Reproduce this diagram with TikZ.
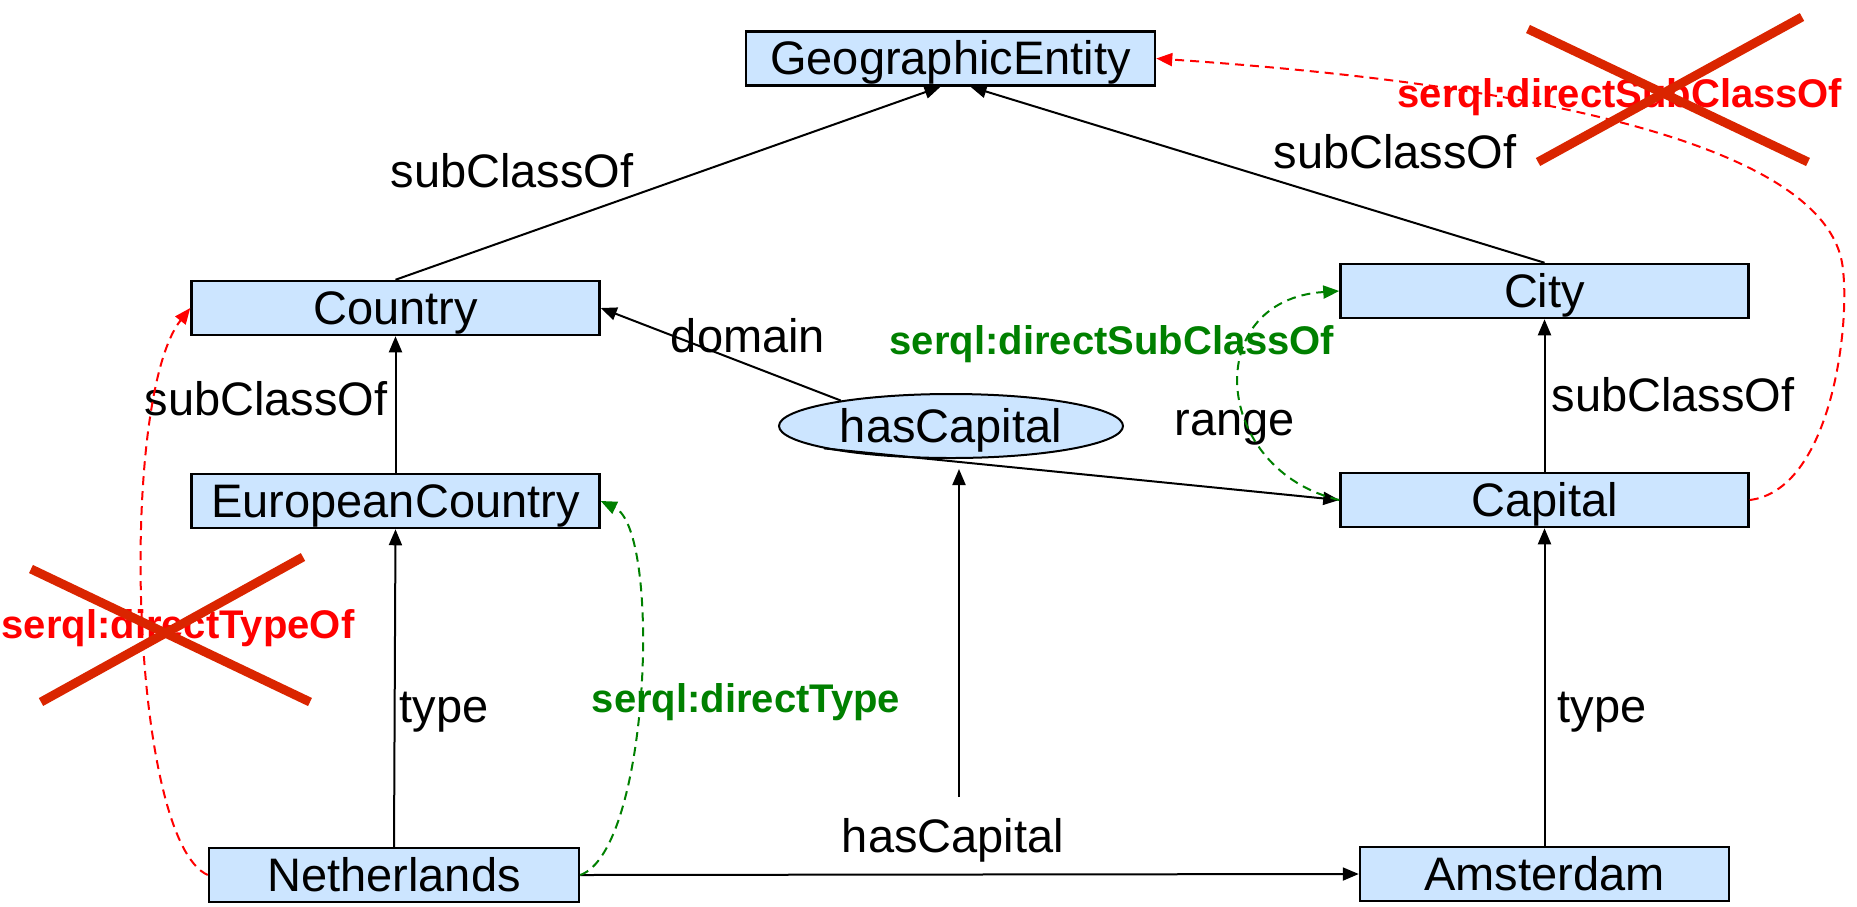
\documentclass[tikz,border=0pt]{standalone}
\usepackage{fontspec}
\setmainfont{Liberation Sans}
\usetikzlibrary{arrows.meta,calc,shapes.geometric}
\definecolor{boxblue}{RGB}{204,229,255}
\definecolor{crossred}{RGB}{218,37,0}
\definecolor{sgreen}{RGB}{0,128,0}
\definecolor{sred}{RGB}{255,0,0}
\begin{document}
\begin{tikzpicture}[x=1pt,y=-1pt,
  cls/.style={draw=black, line width=2.5pt, fill=boxblue, inner sep=0pt,
    font=\fontsize{47}{56}\selectfont, text height=38pt, text depth=6pt,
    minimum height=54pt},
  prop/.style={ellipse, draw=black, line width=2pt, fill=boxblue, inner sep=0pt,
    font=\fontsize{47}{56}\selectfont, text height=38pt, text depth=6pt,
    minimum width=344pt, minimum height=64pt},
  lbl/.style={anchor=base, inner sep=0pt, font=\fontsize{47}{56}\selectfont},
  blbl/.style={anchor=base, inner sep=0pt, font=\fontsize{40}{48}\selectfont\bfseries},
  arr/.style={line width=2pt, -{Triangle[length=16pt,width=13pt]}},
  reddash/.style={draw=sred, line width=2pt, dash pattern=on 9pt off 6pt,
    -{Triangle[length=16pt,width=13pt]}},
  greendash/.style={draw=sgreen, line width=2pt, dash pattern=on 9pt off 6pt,
    -{Triangle[length=16pt,width=13pt]}},
  crossline/.style={draw=crossred, line width=9pt}
]
\useasboundingbox (0,0) rectangle (1857,906);

% nodes
\node[cls, minimum width=409pt] (ge) at (950.5,58.5) {GeographicEntity};
\node[cls, minimum width=408pt] (country) at (395.5,308) {Country};
\node[cls, minimum width=408pt] (eu) at (395.5,501) {EuropeanCountry};
\node[cls, minimum width=370pt] (nl) at (394,875) {Netherlands};
\node[cls, minimum width=369pt] (ams) at (1544.5,874) {Amsterdam};
\node[cls, minimum width=408pt] (city) at (1544.5,291) {City};
\node[cls, minimum width=408pt] (capital) at (1544.5,500) {Capital};

% edges
\draw[arr] (country.north) -- ($(ge.south)+(-10,0)$);
\draw[arr] (city.north) -- ($(ge.south)+(20,0)$);
\draw[arr] (eu.north) -- (country.south);
\draw[arr] (nl.north) -- (eu.south);
\draw[arr] (capital.north) -- (city.south);
\draw[arr] (ams.north) -- (capital.south);
\draw[arr] (nl.east) -- (ams.west);

\node[prop] (hc) at (951,426) {hasCapital};
\draw[arr] (hc.167) -- (country.east);
\draw[arr] (hc.190) -- (capital.west);

\coordinate (a1) at (959,797);
\draw[arr, shorten >=10pt] (a1) -- (a1 |- hc.south);

% labels
\node[lbl] (l1) at (512,187) {subClassOf};
\node[lbl] (l2) at (1395,168) {subClassOf};
\node[lbl] (l3) at (266,415) {subClassOf};
\node[lbl] (l4) at (1673,411) {subClassOf};
\node[lbl] (l5) at (748,352) {domain};
\node[lbl] (l6) at (1235,435) {range};
\node[lbl] (l7) at (444,722) {type};
\node[lbl] (l8) at (1602,722) {type};
\node[lbl] (l9) at (953,852) {hasCapital};

% dashed inferred links
\draw[reddash] (nl.west) .. controls (130,840) and (118,400) .. (country.west);
\draw[greendash] (nl.east) .. controls (650,850) and (662,530) .. (eu.east);
\draw[greendash] (capital.west) .. controls (1212,470) and (1200,300) .. (city.west);
\draw[reddash] (capital.east) .. controls (1830,490) and (1850,330) .. (1843,270)
  .. controls (1830,120) and (1400,75) .. (ge.east);

% bold labels
\node[blbl, text=sgreen] (g1) at (1112,354) {serql:directSubClassOf};
\node[blbl, text=sgreen] (g2) at (746,712) {serql:directType};
\node[blbl, text=sred] (r1) at (1620,107) {serql:directSubClassOf};
\node[blbl, text=sred] (r2) at (178,638) {serql:directTypeOf};

% crosses
\draw[crossline] (1528,29) -- (1808,162);
\draw[crossline] (1538,162) -- (1802,17);
\draw[crossline] (31,569) -- (310,702);
\draw[crossline] (41,702) -- (303,557);
\end{tikzpicture}
\end{document}
